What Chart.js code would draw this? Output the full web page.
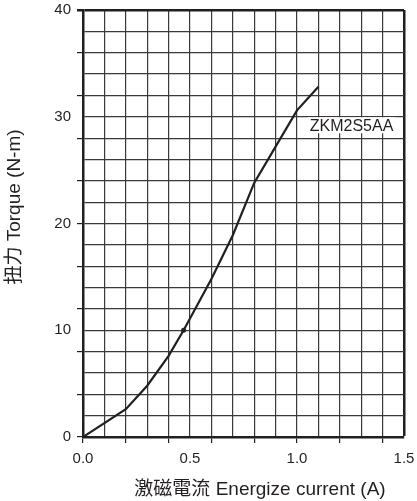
<!DOCTYPE html>
<html>
<head>
<meta charset="utf-8">
<script src="https://cdn.jsdelivr.net/npm/chart.js@4"></script>
<style>
  html, body { margin: 0; padding: 0; background: #fff; }
  #wrap { width: 417px; height: 501px; }
</style>
</head>
<body>
<div id="wrap"><canvas id="grafico" width="417" height="501"></canvas></div>
<script>
// datos
const corriente = [0, 0.2, 0.3, 0.4, 0.47, 0.5, 0.6, 0.7, 0.8, 0.9, 1.0, 1.1];
const torque    = [0, 2.6, 4.8, 7.6, 10.0, 11.1, 14.8, 18.9, 23.8, 27.2, 30.6, 32.8];
const etiquetasX = [0, 0.5, 1.0, 1.5];
const etiquetasY = [0, 10, 20, 30, 40];
const modelo = 'ZKM2S5AA';
const tituloX = '激磁電流 Energize current (A)';
const tituloY = '扭力 Torque (N-m)';

const fuente = '"Liberation Sans", Arial, "Noto Sans CJK TC", sans-serif';
const negro = '#231f20';

// texto del modelo y titulos de los ejes
const textos = {
  id: 'textos',
  afterDraw(chart) {
    const c = chart.ctx;
    const x = chart.scales.x.getPixelForValue(1.255);
    const y = chart.scales.y.getPixelForValue(29.2);
    c.save();
    c.font = '16px ' + fuente;
    const w = c.measureText(modelo).width;
    c.fillStyle = '#fff';
    c.fillRect(x - w / 2 - 2, y - 8, w + 4, 16);
    c.fillStyle = negro;
    c.textAlign = 'center';
    c.textBaseline = 'middle';
    c.fillText(modelo, x, y + 1);

    // titulos
    c.font = '19px ' + fuente;
    c.fillText(tituloX, 260, 490);
    c.translate(15, 207);
    c.rotate(-Math.PI / 2);
    c.fillText(tituloY, 0, 0);
    c.restore();
  }
};

new Chart(document.getElementById('grafico'), {
  type: 'line',
  data: {
    datasets: [{
      data: corriente.map((v, i) => ({ x: v, y: torque[i] })),
      borderColor: negro,
      borderWidth: 2.2,
      pointRadius: corriente.map(v => v === 0.47 ? 2.5 : 0),
      pointBackgroundColor: negro,
      pointBorderWidth: 0,
      tension: 0
    }]
  },
  plugins: [textos],
  options: {
    responsive: false,
    animation: false,
    layout: { padding: { top: 10, right: 13, left: 0, bottom: 0 } },
    plugins: { legend: { display: false }, tooltip: { enabled: false } },
    scales: {
      x: {
        type: 'linear',
        min: 0, max: 1.5,
        afterFit: s => { s.height = 64; s.paddingLeft = 0; s.paddingRight = 0; },
        border: { display: true, color: negro, width: 2.5 },
        grid: {
          color: c => c.index === 15 ? negro : '#3a3a3a',
          lineWidth: c => c.index === 15 ? 2.5 : 1.2,
          tickLength: 6,
          tickColor: c => Math.round(c.tick.value * 10) % 2 === 0 ? negro : 'rgba(0,0,0,0)'
        },
        ticks: {
          stepSize: 0.1,
          autoSkip: false,
          maxRotation: 0,
          color: negro,
          padding: 7,
          font: { family: fuente, size: 15 },
          callback: v => etiquetasX.some(e => Math.abs(e - v) < 1e-6) ? v.toFixed(1) : ''
        },
        title: { display: false }
      },
      y: {
        min: 0, max: 40,
        afterFit: s => { s.width = 83; s.paddingTop = 0; s.paddingBottom = 0; },
        border: { display: true, color: negro, width: 2.5 },
        grid: {
          color: c => c.index === 20 ? negro : '#3a3a3a',
          lineWidth: c => c.index === 20 ? 2.5 : 1.2,
          tickLength: 6,
          tickColor: c => Math.round(c.tick.value) % 4 === 0 ? negro : 'rgba(0,0,0,0)'
        },
        ticks: {
          stepSize: 2,
          autoSkip: false,
          color: negro,
          padding: 6,
          font: { family: fuente, size: 15 },
          callback: v => etiquetasY.includes(v) ? String(v) : ''
        },
        title: { display: false }
      }
    }
  }
});
</script>
</body>
</html>
